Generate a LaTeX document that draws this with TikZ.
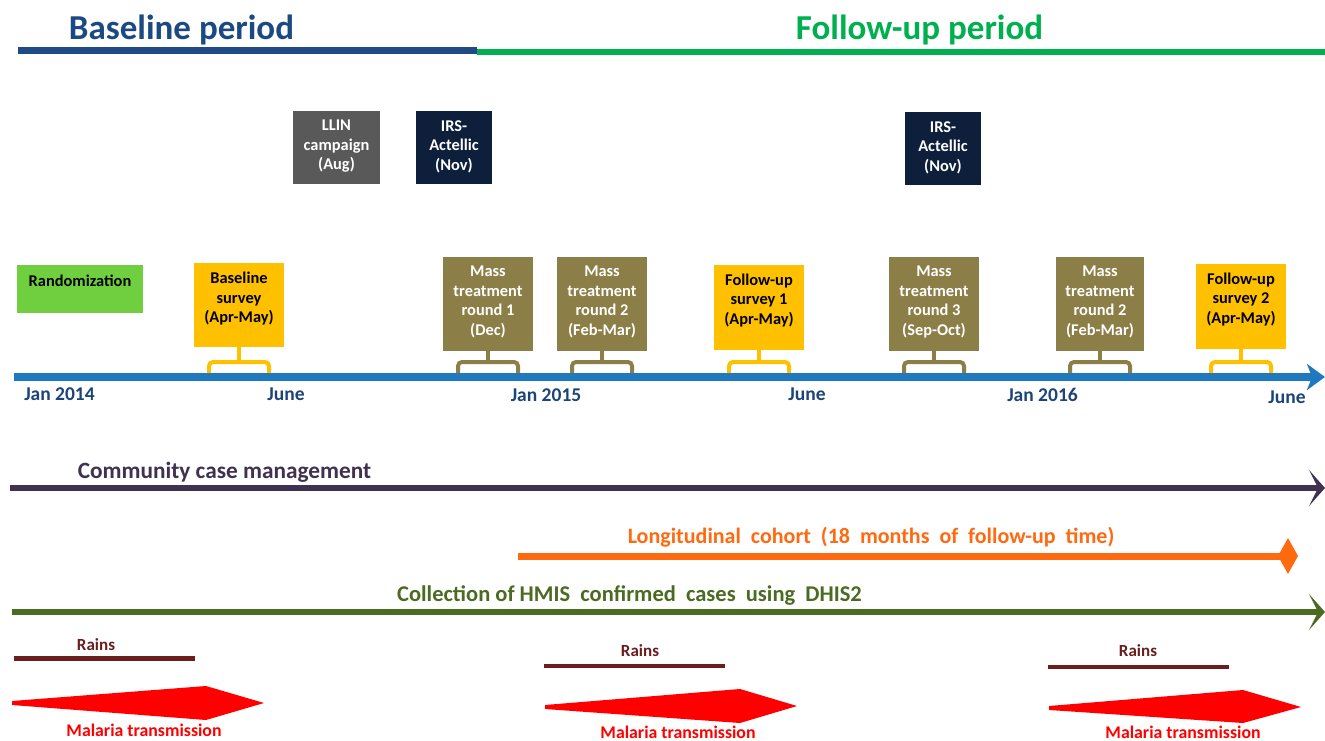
\documentclass[tikz,border=0pt]{standalone}
\usepackage{fontspec}
\setmainfont{Carlito}
\usetikzlibrary{arrows.meta}
\definecolor{titleblue}{HTML}{1B4A82}
\definecolor{barblue}{HTML}{1F4B85}
\definecolor{fgreen}{HTML}{00B050}
\definecolor{llingray}{HTML}{595959}
\definecolor{irsnavy}{HTML}{0E1F3C}
\definecolor{randgreen}{HTML}{6FCF3F}
\definecolor{survorange}{HTML}{FFC000}
\definecolor{mtolive}{HTML}{8C7E47}
\definecolor{tlblue}{HTML}{2079BF}
\definecolor{tllabel}{HTML}{1C4478}
\definecolor{ccmpurple}{HTML}{403151}
\definecolor{cohortorange}{HTML}{FF6A10}
\definecolor{hmisgreen}{HTML}{4B6A22}
\definecolor{rainred}{HTML}{6B1E1E}
\definecolor{malred}{HTML}{FF0000}
\newcommand{\tlbracket}[2]{%
  \coordinate (#1s) at (#1.south |- 0,362);
  \draw[#2, line width=4pt] (#1.south) -- (#1s);
  \draw[#2, line width=4pt, rounded corners=4pt]
    ([xshift=-30pt,yshift=-13pt]#1s) -- ([xshift=-30pt]#1s) -- ([xshift=30pt]#1s) -- ([xshift=30pt,yshift=-13pt]#1s);
}
\begin{document}
\begin{tikzpicture}[x=1pt,y=-1pt,
  every node/.style={font=\bfseries, inner sep=0pt},
  titletext/.style={font=\bfseries\fontsize{35}{42}\selectfont, anchor=base},
  boxnode/.style={rectangle, inner sep=0pt, minimum width=90pt},
  boxlbl/.style={align=center, font=\bfseries\fontsize{16.4}{19.5}\selectfont, inner sep=0pt},
  tltext/.style={font=\bfseries\fontsize{19.5}{23}\selectfont, text=tllabel, anchor=base},
  bigtext/.style={font=\bfseries\fontsize{22.5}{27}\selectfont, anchor=base},
  smalltext/.style={font=\bfseries\fontsize{17}{20}\selectfont, anchor=base},
  maltext/.style={font=\bfseries\fontsize{17.8}{21}\selectfont, anchor=base, text=malred},
  rainline/.style={draw=rainred, line width=4.5pt},
  longarrow/.style={line width=6pt, -{Stealth[length=16pt,width=36pt,inset=9pt]}}
]
\useasboundingbox[fill=white] (0,0) rectangle (1325,741);

% period bars and titles
\draw[barblue, line width=7pt] (18,50.5) -- (477,50.5);
\draw[fgreen, line width=6pt] (477,52) -- (1325,52);
\node[titletext, text=titleblue] (tbase) at (181.5,40) {Baseline period};
\node[titletext, text=fgreen] (tfollow) at (919.5,40) {Follow-up period};

% upper boxes
\node[boxnode, fill=llingray, minimum width=87pt, minimum height=73pt] (llin) at (336.5,147.5) {};
\node[boxlbl, text=white] (llint) at ([yshift=1pt]llin.center) {LLIN\\campaign\\(Aug)};
\node[boxnode, fill=irsnavy, minimum width=76pt, minimum height=73pt] (irsa) at (454,147.5) {};
\node[boxlbl, text=white] (irsat) at ([yshift=1pt]irsa.center) {IRS-\\Actellic\\(Nov)};
\node[boxnode, fill=irsnavy, minimum width=76pt, minimum height=73pt] (irsb) at (943,148.5) {};
\node[boxlbl, text=white] (irsbt) at ([yshift=1pt]irsb.center) {IRS-\\Actellic\\(Nov)};

% randomization
\node[boxnode, fill=randgreen, minimum width=126pt, minimum height=48pt] (rand) at (80,289) {};
\node[boxlbl, text=black] (randt) at ([yshift=8pt]rand.center) {Randomization};

% timeline boxes
\node[boxnode, fill=survorange, minimum height=84pt] (bs) at (239,305) {};
\node[boxlbl, text=black] (bst) at ([yshift=6pt]bs.center) {Baseline\\survey\\(Apr-May)};
\node[boxnode, fill=mtolive, minimum height=94pt] (mta) at (488,304) {};
\node[boxlbl, text=white] (mtat) at ([yshift=2pt]mta.center) {Mass\\treatment\\round 1\\(Dec)};
\node[boxnode, fill=mtolive, minimum height=94pt] (mtb) at (602,304) {};
\node[boxlbl, text=white] (mtbt) at ([yshift=2pt]mtb.center) {Mass\\treatment\\round 2\\(Feb-Mar)};
\node[boxnode, fill=survorange, minimum height=85pt] (fua) at (759,307.5) {};
\node[boxlbl, text=black] (fuat) at ([yshift=7pt]fua.center) {Follow-up\\survey 1\\(Apr-May)};
\node[boxnode, fill=mtolive, minimum height=94pt] (mtc) at (934,304) {};
\node[boxlbl, text=white] (mtct) at ([yshift=2pt]mtc.center) {Mass\\treatment\\round 3\\(Sep-Oct)};
\node[boxnode, fill=mtolive, minimum width=88pt, minimum height=94pt] (mtd) at (1100,304) {};
\node[boxlbl, text=white] (mtdt) at ([yshift=2pt]mtd.center) {Mass\\treatment\\round 2\\(Feb-Mar)};
\node[boxnode, fill=survorange, minimum height=85pt] (fub) at (1241,306.5) {};
\node[boxlbl, text=black] (fubt) at ([yshift=7pt]fub.center) {Follow-up\\survey 2\\(Apr-May)};

% brackets
\tlbracket{bs}{survorange}
\tlbracket{mta}{mtolive}
\tlbracket{mtb}{mtolive}
\tlbracket{fua}{survorange}
\tlbracket{mtc}{mtolive}
\tlbracket{mtd}{mtolive}
\tlbracket{fub}{survorange}

% timeline
\coordinate (tlS) at (14,377);
\coordinate (tlE) at (1325,377);
\draw[tlblue, line width=8pt, -{Stealth[length=18pt,width=26pt,inset=5pt]}] (tlS) -- (tlE);
\node[tltext] (ja14) at (59.5,400) {Jan 2014};
\node[tltext] (ju14) at (286,400) {June};
\node[tltext] (ja15) at (546,401) {Jan 2015};
\node[tltext] (ju15) at (807,400) {June};
\node[tltext] (ja16) at (1042.5,401) {Jan 2016};
\node[tltext] (ju16) at (1287,403) {June};

% community case management
\coordinate (ccmS) at (10,488);
\coordinate (ccmE) at (1325,488);
\draw[ccmpurple, longarrow] (ccmS) -- (ccmE);
\node[bigtext, text=ccmpurple, font=\bfseries\fontsize{23.3}{28}\selectfont] (ccmt) at (224.5,478) {Community case management};

% longitudinal cohort
\coordinate (lcS) at (518,556);
\coordinate (lcE) at (1298,556);
\draw[cohortorange, line width=7pt, -{Diamond[length=20pt,width=36pt]}] (lcS) -- (lcE);
\node[bigtext, text=cohortorange, font=\bfseries\fontsize{22}{26}\selectfont] (lct) at (871,543) {Longitudinal\ \ cohort\ \ (18\ \ months\ \ of\ \ follow-up\ \ time)};

% HMIS
\coordinate (hmS) at (12,612);
\coordinate (hmE) at (1325,612);
\draw[hmisgreen, longarrow] (hmS) -- (hmE);
\node[bigtext, text=hmisgreen] (hmt) at (629.5,601) {Collection of HMIS\ \ confirmed\ \ cases\ \ using\ \ DHIS2};

% rains
\draw[rainline] (14,658.5) -- (195,658.5);
\draw[rainline] (544,666) -- (725,666);
\draw[rainline] (1048,667) -- (1229,667);
\node[smalltext, text=rainred] (ra1) at (96,650) {Rains};
\node[smalltext, text=rainred] (ra2) at (640,656) {Rains};
\node[smalltext, text=rainred] (ra3) at (1138,656) {Rains};

% malaria transmission
\fill[malred] (12,701) -- (206,686) -- (264,703) -- (206,720) -- (12,705) -- cycle;
\fill[malred] (545,705) -- (740,689) -- (797,706) -- (740,723) -- (545,709) -- cycle;
\fill[malred] (1049,706) -- (1243,690) -- (1301,707) -- (1243,723) -- (1049,710) -- cycle;
\node[maltext] (mt1l) at (144,736) {Malaria transmission};
\node[maltext] (mt2l) at (678,738) {Malaria transmission};
\node[maltext] (mt3l) at (1183,738) {Malaria transmission};
\end{tikzpicture}
\end{document}
